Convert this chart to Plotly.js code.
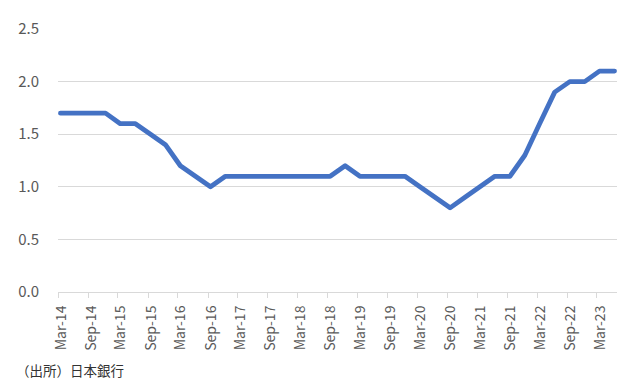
<!DOCTYPE html>
<html>
<head>
<meta charset="utf-8">
<script src="https://cdn.plot.ly/plotly-3.0.1.min.js"></script>
<style>
html, body { margin: 0; padding: 0; background: #fff; }
#chart { width: 628px; height: 383px; }
.scatterlayer path.js-line { stroke-linejoin: round; stroke-linecap: round; }
</style>
</head>
<body>
<div id="chart"></div>
<script>
// Quarterly survey months (YYYY-MM)
const quarters = [
  "2014-03","2014-06","2014-09","2014-12",
  "2015-03","2015-06","2015-09","2015-12",
  "2016-03","2016-06","2016-09","2016-12",
  "2017-03","2017-06","2017-09","2017-12",
  "2018-03","2018-06","2018-09","2018-12",
  "2019-03","2019-06","2019-09","2019-12",
  "2020-03","2020-06","2020-09","2020-12",
  "2021-03","2021-06","2021-09","2021-12",
  "2022-03","2022-06","2022-09","2022-12",
  "2023-03","2023-06"
];
const values = [
  1.7, 1.7, 1.7, 1.7,
  1.6, 1.6, 1.5, 1.4,
  1.2, 1.1, 1.0, 1.1,
  1.1, 1.1, 1.1, 1.1,
  1.1, 1.1, 1.1, 1.2,
  1.1, 1.1, 1.1, 1.1,
  1.0, 0.9, 0.8, 0.9,
  1.0, 1.1, 1.1, 1.3,
  1.6, 1.9, 2.0, 2.0,
  2.1, 2.1
];
const sourceText = "（出所）日本銀行";

// place each point in the middle of its month (date-axis style)
const xDates = quarters.map(q => q + "-16");

const FONT = "'Noto Sans CJK JP', 'Noto Sans', sans-serif";

const trace = {
  type: "scatter",
  mode: "lines",
  x: xDates,
  y: values,
  line: { color: "#4472C4", width: 4.8 },
  hoverinfo: "skip"
};

const layout = {
  width: 628,
  height: 383,
  margin: { l: 58, r: 11, t: 29, b: 91 },
  paper_bgcolor: "#ffffff",
  plot_bgcolor: "#ffffff",
  showlegend: false,
  font: { family: FONT, color: "#595959" },
  xaxis: {
    type: "date",
    range: ["2014-03-01", "2023-07-01"],
    tick0: "2014-03-01",
    dtick: "M6",
    tickformat: "%b-%y",
    tickangle: -90,
    ticks: "outside",
    ticklen: 5,
    tickcolor: "#d9d9d9",
    tickwidth: 1,
    ticklabelshift: 3,
    ticklabelstandoff: 2,
    showline: true,
    linecolor: "#d9d9d9",
    linewidth: 1,
    showgrid: false,
    zeroline: false,
    tickfont: { family: FONT, size: 14, color: "#595959" },
    fixedrange: true
  },
  yaxis: {
    range: [0, 2.5],
    dtick: 0.5,
    tick0: 0,
    tickformat: ".1f",
    showgrid: true,
    gridcolor: "#d9d9d9",
    gridwidth: 1,
    zeroline: false,
    showline: false,
    ticks: "",
    ticklabelstandoff: 18,
    tickfont: { family: FONT, size: 15, color: "#595959" },
    fixedrange: true
  },
  annotations: [{
    text: sourceText,
    xref: "paper", yref: "paper",
    x: -58 / 559, y: -(370 - 292) / 263,
    xshift: 14,
    xanchor: "left", yanchor: "middle",
    showarrow: false,
    font: { family: FONT, size: 13.5, color: "#333333" }
  }]
};

Plotly.newPlot("chart", [trace], layout, { displayModeBar: false, staticPlot: true });
</script>
</body>
</html>
